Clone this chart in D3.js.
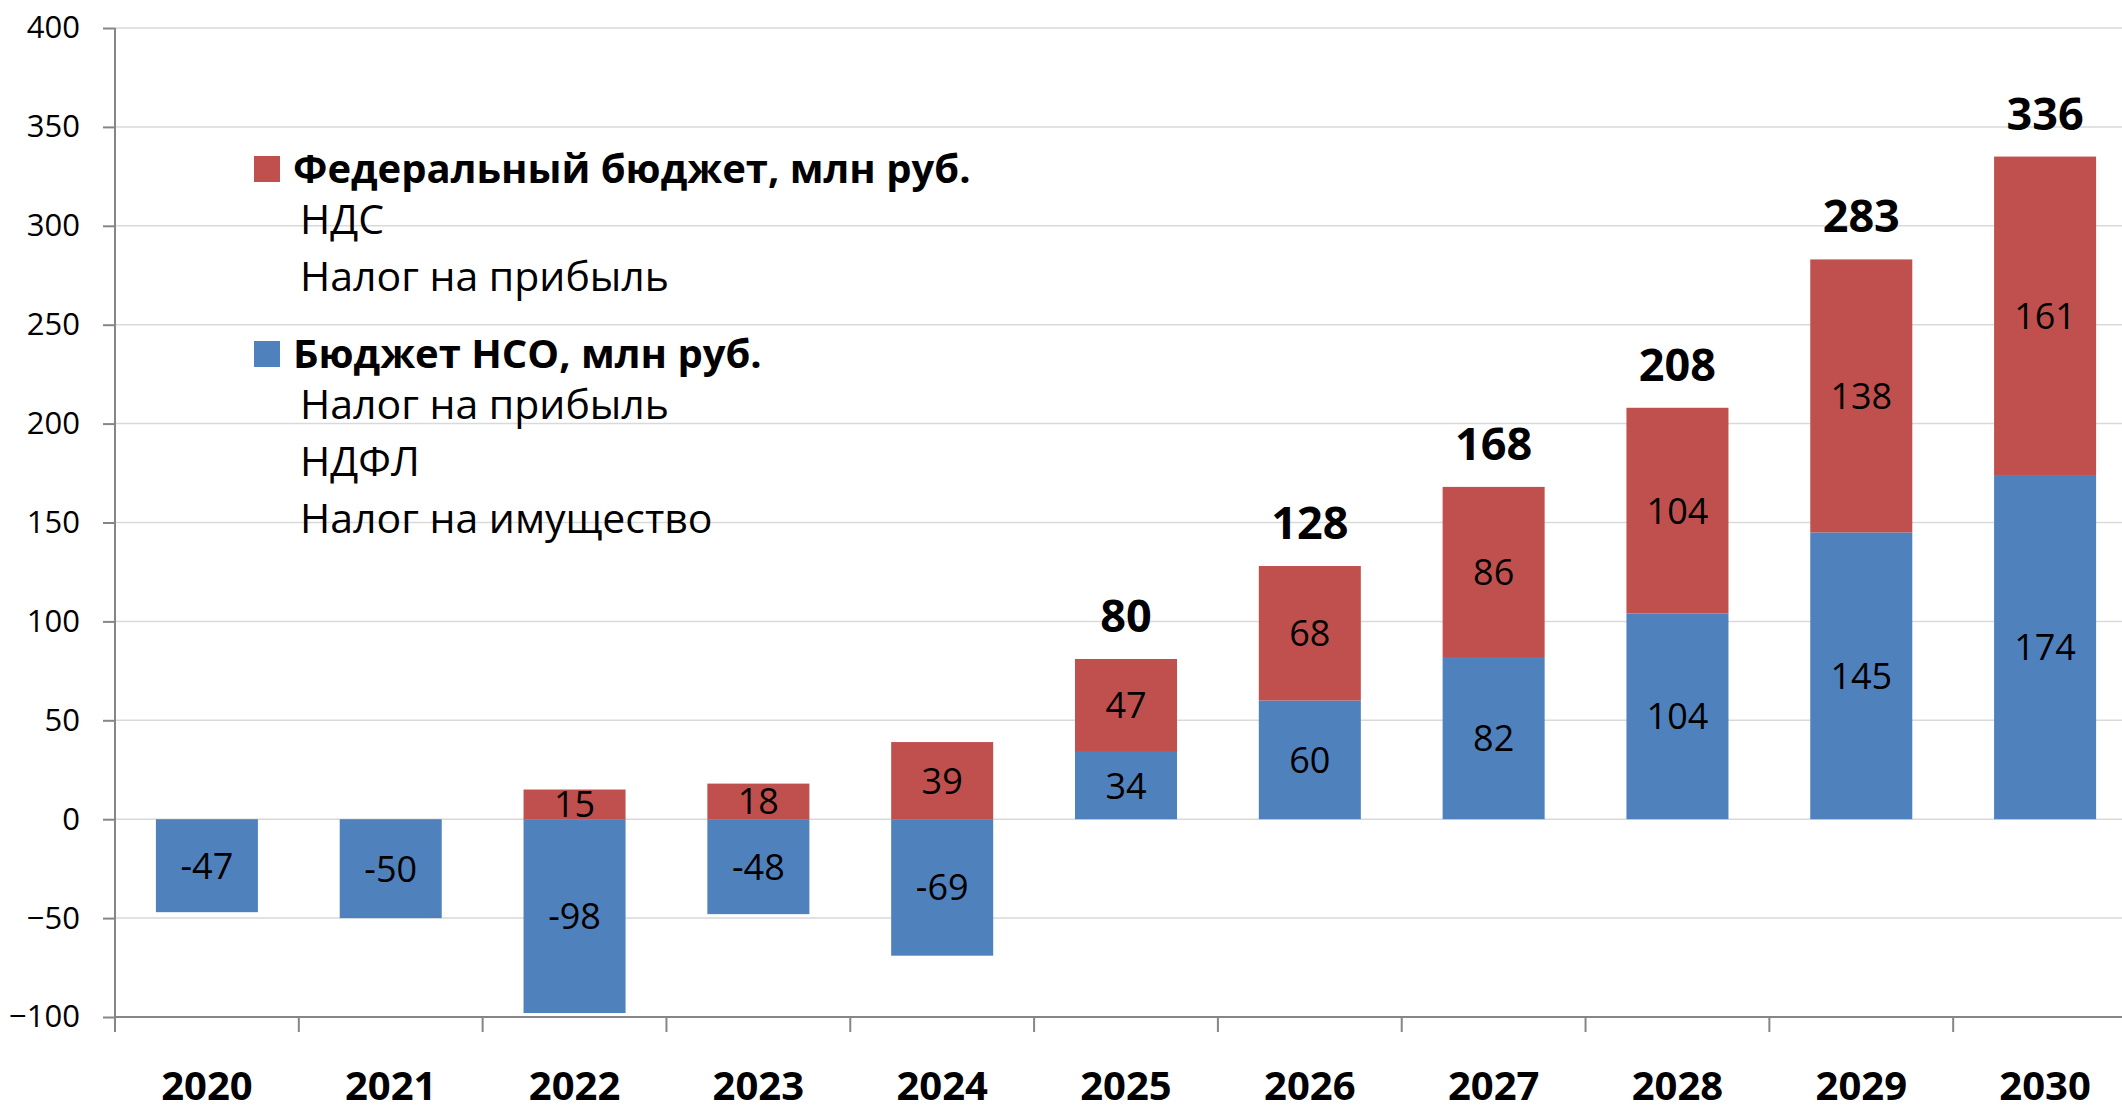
<!DOCTYPE html>
<html>
<head>
<meta charset="utf-8">
<script src="https://cdn.jsdelivr.net/npm/d3@7"></script>
<style>
  html, body { margin: 0; padding: 0; background: #ffffff; }
  svg { display: block; font-family: "Open Sans", "Noto Sans", sans-serif; }
</style>
</head>
<body>
<script>
// ---- data ----
const years = ["2020","2021","2022","2023","2024","2025","2026","2027","2028","2029","2030"];
const nsoBudget = [-47, -50, -98, -48, -69, 34, 60, 82, 104, 145, 174];
const fedBudget = [null, null, 15, 18, 39, 47, 68, 86, 104, 138, 161];
const totals = [null, null, null, null, null, 80, 128, 168, 208, 283, 336];
const yTicks = [-100, -50, 0, 50, 100, 150, 200, 250, 300, 350, 400];
const fedLegendTitle = "Федеральный бюджет, млн руб.";
const fedLegendItems = ["НДС", "Налог на прибыль"];
const nsoLegendTitle = "Бюджет НСО, млн руб.";
const nsoLegendItems = ["Налог на прибыль", "НДФЛ", "Налог на имущество"];

// ---- layout ----
const W = 2122, H = 1111;
const plot = { left: 115, right: 2137, top: 28, bottom: 1017 };
const colors = { nso: "#4F81BD", fed: "#C0504D" };

const svg = d3.select("body").append("svg").attr("width", W).attr("height", H);

const x = d3.scaleBand().domain(years).range([plot.left, plot.right]).paddingInner(0.445).paddingOuter(0.2225);
const xb = d3.scaleLinear().domain([0, years.length]).range([plot.left, plot.right]);
const y = d3.scaleLinear().domain([-100, 400]).range([plot.bottom, plot.top]);

// gridlines
svg.append("g").selectAll("line").data(yTicks.filter(v => v !== -100)).join("line")
  .attr("x1", plot.left).attr("x2", plot.right)
  .attr("y1", d => y(d)).attr("y2", d => y(d))
  .attr("stroke", "#d9d9d9").attr("stroke-width", 1.5);

// stacked bars
const rows = years.map((yr, i) => ({ year: yr, nso: nsoBudget[i], fed: fedBudget[i] || 0 }));
const stack = d3.stack().keys(["nso", "fed"]).offset(d3.stackOffsetDiverging);
const series = stack(rows);

const gBars = svg.append("g");
series.forEach(s => {
  gBars.append("g").attr("fill", colors[s.key])
    .selectAll("rect").data(s.filter(d => d[1] !== d[0])).join("rect")
    .attr("x", d => x(d.data.year))
    .attr("width", x.bandwidth())
    .attr("y", d => y(Math.max(d[0], d[1])))
    .attr("height", d => Math.abs(y(d[0]) - y(d[1])));
});

// segment labels
series.forEach(s => {
  svg.append("g").selectAll("text").data(s.filter(d => d[1] !== d[0])).join("text")
    .attr("x", d => x(d.data.year) + x.bandwidth() / 2)
    .attr("y", d => (y(d[0]) + y(d[1])) / 2)
    .attr("dy", "0.36em")
    .attr("text-anchor", "middle")
    .attr("font-size", 36)
    .attr("fill", "#000")
    .text(d => s.key === "nso" ? d.data.nso : d.data.fed);
});

// total labels
const topOf = i => d3.max(series, s => s[i][1]);
svg.append("g").selectAll("text").data(years.map((yr, i) => ({ yr, i, t: totals[i] })).filter(d => d.t != null)).join("text")
  .attr("x", d => x(d.yr) + x.bandwidth() / 2)
  .attr("y", d => y(topOf(d.i)) - 27)
  .attr("text-anchor", "middle")
  .attr("font-size", 45)
  .attr("font-weight", "bold")
  .attr("fill", "#000")
  .text(d => d.t);

// y axis
const yAxis = svg.append("g").attr("transform", `translate(${plot.left},0)`)
  .call(d3.axisLeft(y).tickValues(yTicks).tickSize(12).tickPadding(23).tickFormat(d3.format("d")));
yAxis.select(".domain").remove();
yAxis.selectAll(".tick line").attr("stroke", "#868686").attr("stroke-width", 2);
yAxis.selectAll(".tick text").attr("font-size", 31).attr("fill", "#000").attr("font-family", "Open Sans");
svg.append("line").attr("x1", plot.left).attr("x2", plot.left)
  .attr("y1", plot.top).attr("y2", plot.bottom + 15)
  .attr("stroke", "#868686").attr("stroke-width", 2);

// x axis
svg.append("line").attr("x1", plot.left).attr("x2", plot.right)
  .attr("y1", plot.bottom).attr("y2", plot.bottom)
  .attr("stroke", "#868686").attr("stroke-width", 2);
svg.append("g").selectAll("line").data(d3.range(1, years.length + 1)).join("line")
  .attr("x1", d => xb(d)).attr("x2", d => xb(d))
  .attr("y1", plot.bottom).attr("y2", plot.bottom + 15)
  .attr("stroke", "#868686").attr("stroke-width", 2);
svg.append("g").selectAll("text").data(years).join("text")
  .attr("x", d => x(d) + x.bandwidth() / 2)
  .attr("y", 1100)
  .attr("text-anchor", "middle")
  .attr("font-size", 40)
  .attr("font-weight", "bold")
  .attr("fill", "#000")
  .text(d => d);

// legend
const legend = svg.append("g");
function legendBlock(top, color, title, items) {
  legend.append("rect").attr("x", 254).attr("y", top).attr("width", 26).attr("height", 26).attr("fill", color);
  legend.append("text").attr("x", 293).attr("y", top + 27)
    .attr("font-size", 40).attr("font-weight", "bold").attr("fill", "#000").text(title);
  legend.append("g").selectAll("text").data(items).join("text")
    .attr("x", 300).attr("y", (d, i) => top + 27 + 51 + i * 57)
    .attr("font-size", 41).attr("fill", "#000").text(d => d);
}
legendBlock(156, colors.fed, fedLegendTitle, fedLegendItems);
legendBlock(341, colors.nso, nsoLegendTitle, nsoLegendItems);
</script>
</body>
</html>
